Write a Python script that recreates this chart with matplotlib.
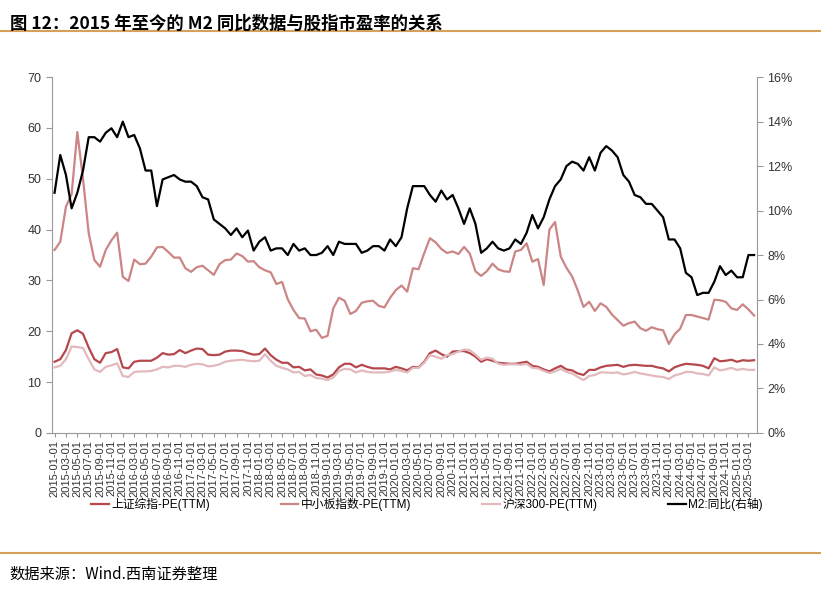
import matplotlib.pyplot as plt
import pandas as pd
from matplotlib.ticker import FuncFormatter

plt.rcParams['font.family'] = ['Liberation Sans', 'Noto Sans CJK SC', 'DejaVu Sans']

months = pd.date_range('2015-01-01', periods=124, freq='MS')

sse_pe = [14.0, 14.5, 16.3, 19.6, 20.2, 19.5, 16.8, 14.5, 13.8, 15.7, 15.9, 16.5,
          12.9, 12.7, 14.0, 14.2, 14.2, 14.2, 14.8, 15.7, 15.4, 15.5, 16.3, 15.7,
          16.2, 16.6, 16.5, 15.4, 15.3, 15.4, 16.0, 16.2, 16.2, 16.1, 15.7, 15.4,
          15.5, 16.6, 15.3, 14.4, 13.8, 13.8, 12.9, 13.0, 12.3, 12.5, 11.5, 11.3,
          10.9, 11.5, 12.9, 13.6, 13.6, 12.9, 13.4, 13.0, 12.7, 12.7, 12.7, 12.5,
          13.0, 12.7, 12.3, 13.0, 12.9, 14.0, 15.7, 16.2, 15.5, 15.0, 16.0, 16.1,
          16.1, 15.7, 15.0, 14.0, 14.5, 14.2, 13.8, 13.7, 13.6, 13.6, 13.8, 14.0,
          13.2, 13.0, 12.5, 12.1, 12.7, 13.2, 12.5, 12.3, 11.7, 11.4, 12.4, 12.4,
          12.9, 13.2, 13.3, 13.4, 13.0, 13.3, 13.4, 13.3, 13.2, 13.2, 12.9, 12.7,
          12.1, 12.9, 13.3, 13.6, 13.5, 13.4, 13.2, 12.7, 14.7, 14.1, 14.2, 14.4,
          14.0, 14.3, 14.2, 14.3]

sme_pe = [36.0, 37.6, 44.5, 47.0, 59.2, 50.0, 39.3, 34.0, 32.7, 36.0, 37.9, 39.4,
          30.7, 29.9, 34.1, 33.2, 33.3, 34.7, 36.5, 36.6, 35.6, 34.5, 34.5, 32.4,
          31.7, 32.6, 32.9, 32.0, 31.1, 33.2, 34.0, 34.1, 35.3, 34.8, 33.7, 33.8,
          32.6, 32.0, 31.6, 29.3, 29.7, 26.3, 24.2, 22.6, 22.5, 20.0, 20.3, 18.7,
          19.1, 24.5, 26.6, 26.0, 23.4, 24.0, 25.6, 25.9, 26.0, 25.0, 24.7, 26.6,
          28.1, 29.0, 27.8, 32.4, 32.2, 35.4, 38.3, 37.5, 36.2, 35.4, 35.7, 35.2,
          36.6, 35.3, 31.8, 30.9, 31.8, 33.3, 32.2, 31.8, 31.7, 35.7, 36.0, 37.3,
          33.7, 34.2, 29.1, 40.0, 41.5, 34.7, 32.5, 30.8, 28.0, 24.8, 25.8, 24.0,
          25.5, 24.8, 23.3, 22.2, 21.1, 21.6, 21.9, 20.6, 20.1, 20.8, 20.4, 20.2,
          17.5, 19.4, 20.5, 23.2, 23.2, 22.9, 22.6, 22.3, 26.2, 26.1, 25.8, 24.5,
          24.2, 25.3, 24.3, 23.1]

csi300_pe = [12.9, 13.2, 14.5, 17.0, 16.9, 16.7, 14.5, 12.5, 12.0, 13.0, 13.3, 13.7,
             11.2, 11.0, 12.0, 12.1, 12.1, 12.2, 12.5, 13.0, 12.9, 13.2, 13.2, 13.0,
             13.4, 13.6, 13.5, 13.1, 13.2, 13.5, 14.0, 14.2, 14.3, 14.4, 14.2, 14.1,
             14.2, 15.5, 14.2, 13.2, 12.8, 12.5, 11.9, 12.0, 11.2, 11.4, 10.8, 10.7,
             10.4, 10.9, 12.2, 12.6, 12.5, 11.9, 12.3, 12.0, 11.9, 11.9, 11.9, 12.1,
             12.4, 12.2, 11.9, 12.8, 12.8, 13.8, 15.3, 15.0, 14.6, 15.3, 15.5, 16.0,
             16.4, 16.3, 15.4, 14.4, 14.8, 14.6, 13.6, 13.4, 13.5, 13.5, 13.4, 13.6,
             12.8, 12.7, 12.2, 11.8, 12.1, 12.6, 12.0, 11.7, 11.0, 10.4, 11.2, 11.4,
             11.9, 11.9, 11.8, 11.9, 11.5, 11.7, 12.0, 11.7, 11.5, 11.3, 11.1, 11.0,
             10.6, 11.3, 11.6, 12.0, 12.0, 11.7, 11.6, 11.3, 12.9, 12.3, 12.5, 12.8,
             12.4, 12.6, 12.4, 12.4]

m2_yoy = [10.8, 12.5, 11.6, 10.1, 10.8, 11.8, 13.3, 13.3, 13.1, 13.5, 13.7, 13.3,
          14.0, 13.3, 13.4, 12.8, 11.8, 11.8, 10.2, 11.4, 11.5, 11.6, 11.4, 11.3,
          11.3, 11.1, 10.6, 10.5, 9.6, 9.4, 9.2, 8.9, 9.2, 8.8, 9.1, 8.2,
          8.6, 8.8, 8.2, 8.3, 8.3, 8.0, 8.5, 8.2, 8.3, 8.0, 8.0, 8.1,
          8.4, 8.0, 8.6, 8.5, 8.5, 8.5, 8.1, 8.2, 8.4, 8.4, 8.2, 8.7,
          8.4, 8.8, 10.1, 11.1, 11.1, 11.1, 10.7, 10.4, 10.9, 10.5, 10.7, 10.1,
          9.4, 10.1, 9.4, 8.1, 8.3, 8.6, 8.3, 8.2, 8.3, 8.7, 8.5, 9.0,
          9.8, 9.2, 9.7, 10.5, 11.1, 11.4, 12.0, 12.2, 12.1, 11.8, 12.4, 11.8,
          12.6, 12.9, 12.7, 12.4, 11.6, 11.3, 10.7, 10.6, 10.3, 10.3, 10.0, 9.7,
          8.7, 8.7, 8.3, 7.2, 7.0, 6.2, 6.3, 6.3, 6.8, 7.5, 7.1, 7.3,
          7.0, 7.0, 8.0, 8.0]

tick_labels = [d.strftime('%Y-%m-%d') for d in months[::2]]

fig = plt.figure(figsize=(8.21, 5.89), dpi=100)
ax = fig.add_axes([0.063, 0.265, 0.859, 0.604])
ax2 = ax.twinx()

x = list(range(len(months)))
l1, = ax.plot(x, sse_pe, color='#B5474D', lw=1.6, label='上证综指-PE(TTM)')
l2, = ax.plot(x, sme_pe, color='#CC8585', lw=1.6, label='中小板指数-PE(TTM)')
l3, = ax.plot(x, csi300_pe, color='#E2B9BC', lw=1.6, label='沪深300-PE(TTM)')
l4, = ax2.plot(x, m2_yoy, color='black', lw=1.6, label='M2:同比(右轴)')

ax.set_ylim(0, 70)
ax.set_yticks(range(0, 71, 10))
ax2.set_ylim(0, 16)
ax2.set_yticks(range(0, 17, 2))
ax2.yaxis.set_major_formatter(FuncFormatter(lambda v, p: f'{v:.0f}%'))
ax.set_xlim(-0.5, len(months) - 0.5)
ax.set_xticks(x[::2])
ax.set_xticklabels(tick_labels, rotation=90, fontsize=8, color='#333333')

for a in (ax, ax2):
    for s in a.spines.values():
        s.set_visible(False)
    a.tick_params(axis='y', labelsize=9, colors='#333333', length=4, color='#999999')
ax.spines['left'].set_visible(True)
ax.spines['bottom'].set_visible(True)
ax2.spines['right'].set_visible(True)
for s in (ax.spines['left'], ax.spines['bottom'], ax2.spines['right']):
    s.set_color('#999999')
ax.tick_params(axis='x', length=3, color='#999999', pad=2)

fig.legend(handles=[l1, l2, l3, l4], loc='center', bbox_to_anchor=(0.52, 0.143),
           ncol=4, frameon=False, fontsize=8.5, handlelength=1.5, columnspacing=6,
           handletextpad=0.2)

fig.text(0.012, 0.975, '图 12：2015 年至今的 M2 同比数据与股指市盈率的关系',
         fontsize=12.5, fontweight='bold', va='top',
         family=['Noto Sans CJK SC', 'DejaVu Sans'])
fig.add_artist(plt.Line2D([0.0, 1.0], [0.947, 0.947], color='#D4A05A', lw=1.5))
fig.add_artist(plt.Line2D([0.0, 1.0], [0.061, 0.061], color='#D4A05A', lw=1.5))
fig.text(0.012, 0.018, '数据来源：Wind.西南证券整理', fontsize=11, style='italic',
         family=['Noto Sans CJK SC', 'DejaVu Sans'])

fig.savefig('out.png', dpi=100)
